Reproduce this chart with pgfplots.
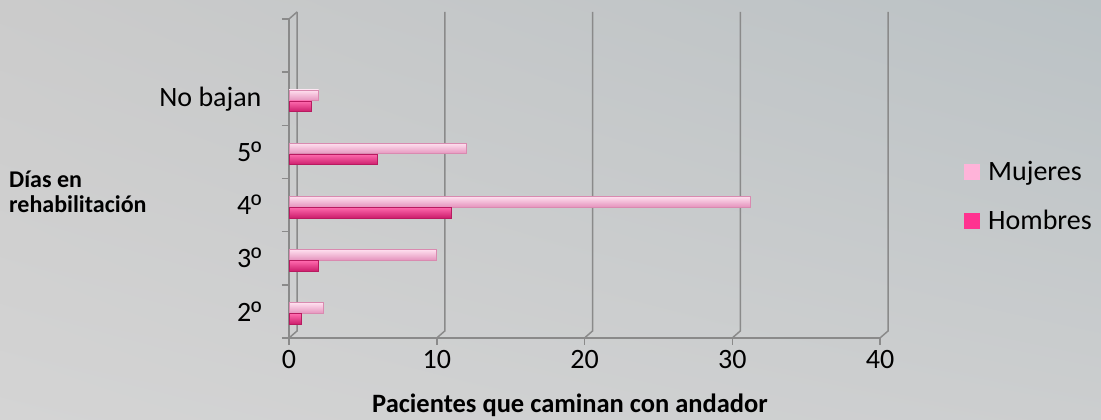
\documentclass[border=0pt]{standalone}
\usepackage{fontspec}
\setmainfont{Carlito}
\newfontfamily\lib{Liberation Sans}
\usepackage{pgfplots}
\pgfplotsset{compat=1.18}
\usetikzlibrary{shadings}
\definecolor{mujT}{HTML}{FFE0EF}
\definecolor{mujM}{HTML}{FFB6DA}
\definecolor{mujB}{HTML}{E595BE}
\definecolor{mujD}{HTML}{D98AB0}
\definecolor{homT}{HTML}{FF6AAE}
\definecolor{homM}{HTML}{FF3592}
\definecolor{homB}{HTML}{CC1E6C}
\definecolor{homD}{HTML}{B81A60}
\definecolor{mujL}{HTML}{FFB3D9}
\definecolor{homL}{HTML}{FF3390}
\definecolor{gridc}{HTML}{8A8A8A}
\definecolor{bgUL}{HTML}{CBCBCB}
\definecolor{bgUR}{HTML}{BBC2C5}
\definecolor{bgLL}{HTML}{D4D4D4}
\definecolor{bgLR}{HTML}{CCCECF}
\pgfplotsset{
  mujbar/.style={xbar, bar width=10.5pt, bar shift=3.5pt, draw=mujD, line width=0.6pt,
    top color=mujT, middle color=mujM, bottom color=mujB},
  hombar/.style={xbar, bar width=10.5pt, bar shift=-7.5pt, draw=homD, line width=0.6pt,
    top color=homT, middle color=homM, bottom color=homB},
}
\newcommand{\ord}{{\lib º}}
\begin{document}
\begin{tikzpicture}[x=1pt,y=1pt]
\shade[upper left=bgUL, upper right=bgUR, lower left=bgLL, lower right=bgLR]
  (0,0) rectangle (1101,420);
\begin{axis}[
  at={(289pt,82pt)}, anchor=south west,
  scale only axis, width=591pt, height=319pt,
  xmin=0, xmax=40, ymin=-0.5, ymax=5.5,
  clip=false,
  axis lines*=left,
  axis line style={gridc, line width=1.5pt},
  every tick/.style={gridc, line width=1.5pt},
  tick align=outside, major tick length=7pt,
  xtick={0,10,20,30,40},
  ytick={-0.5,0.5,1.5,2.5,3.5,4.5,5.5},
  yticklabels={},
  extra y ticks={0,1,2,3,4},
  extra y tick labels={2\ord,3\ord,4\ord,5\ord,No bajan},
  extra y tick style={major tick length=0pt},
  tick label style={font=\fontsize{28}{32}\selectfont, text=black},
  yticklabel style={anchor=east, xshift=-24pt},
  xticklabel style={anchor=base, yshift=-24pt},
  /pgf/number format/assume math mode=true,
]
\pgfplotsinvokeforeach{0,10,20,30,40}{
  \draw[gridc, line width=1.5pt] (axis cs:#1,-0.5) -- ++(8pt,7pt) -- ([xshift=8pt,yshift=7pt]axis cs:#1,5.5);
}
\draw[gridc, line width=1.5pt] (axis cs:0,5.5) -- ++(8pt,7pt);
% Mujeres
\addplot[mujbar] coordinates {(2.3,0)};
\addplot[mujbar] coordinates {(10,1)};
\addplot[mujbar] coordinates {(31.2,2)};
\addplot[mujbar] coordinates {(12,3)};
\addplot[mujbar] coordinates {(2,4)};
% Hombres
\addplot[hombar] coordinates {(0.8,0)};
\addplot[hombar] coordinates {(2,1)};
\addplot[hombar] coordinates {(11,2)};
\addplot[hombar] coordinates {(6,3)};
\addplot[hombar] coordinates {(1.5,4)};
\end{axis}
\node[anchor=base west, inner sep=0pt, font=\bfseries\fontsize{24}{25}\selectfont] at (9,232) {Días en};
\node[anchor=base west, inner sep=0pt, font=\bfseries\fontsize{24}{25}\selectfont] at (9,207) {rehabilitación};
\node[anchor=base, inner sep=0pt, font=\bfseries\fontsize{26.5}{28}\selectfont] at (570,7) {Pacientes que caminan con andador};
\fill[mujL] (964,240) rectangle ++(16,16);
\node[anchor=base west, inner sep=0pt, font=\fontsize{28}{32}\selectfont] at (988,239) {Mujeres};
\fill[homL] (964,191) rectangle ++(16,16);
\node[anchor=base west, inner sep=0pt, font=\fontsize{28}{32}\selectfont] at (988,190) {Hombres};
\pgfresetboundingbox
\useasboundingbox (0,0) rectangle (1101,420);
\end{tikzpicture}
\end{document}
